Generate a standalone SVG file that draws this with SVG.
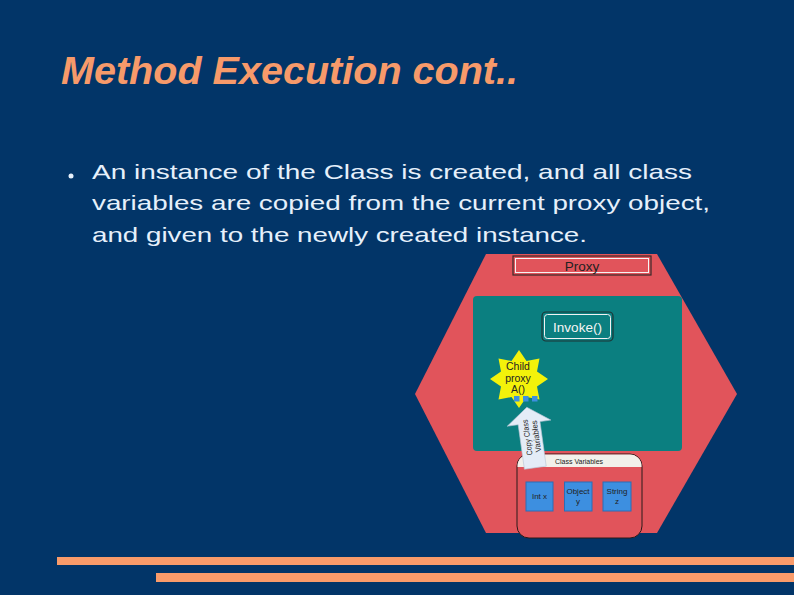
<svg xmlns="http://www.w3.org/2000/svg" width="794" height="595" viewBox="0 0 794 595">
<style>
.bg{fill:#023568}
.title{font-family:"Liberation Sans",Arial,sans-serif;font-weight:bold;font-style:italic;font-size:39px;fill:#f79a6a}
.body{font-family:"Liberation Sans",Arial,sans-serif;font-size:21px;fill:#e6f0fb}
.small{font-family:"Liberation Sans",Arial,sans-serif;fill:#222;text-anchor:middle}
.var{fill:#3d8fe0;stroke:#2d6db5;stroke-width:1}
.bar{fill:#f99b6a}
</style>
<rect class="bg" x="0" y="0" width="794" height="595"/>
<text class="title" x="61" y="84" textLength="457" lengthAdjust="spacingAndGlyphs">Method Execution cont..</text>
<circle cx="71" cy="176" r="2.5" fill="#e6f0fb"/>
<text class="body" x="92" y="179" textLength="600" lengthAdjust="spacingAndGlyphs">An instance of the Class is created, and all class</text>
<text class="body" x="92" y="210" textLength="618" lengthAdjust="spacingAndGlyphs">variables are copied from the current proxy object,</text>
<text class="body" x="92" y="242" textLength="495" lengthAdjust="spacingAndGlyphs">and given to the newly created instance.</text>

<g id="proxy">
<polygon points="486,254 657,254 737,394 657,533 486,533 415,394" fill="#e1545b"/>
<rect x="513" y="256" width="138" height="19" fill="none" stroke="#3a2a2a" stroke-width="1.2"/>
<rect x="515.5" y="258.5" width="133" height="14" fill="none" stroke="#f4f4f4" stroke-width="1"/>
<text class="small" x="582" y="270.5" font-size="13.5" fill="#2a1a1a">Proxy</text>
</g>

<g id="invokeArea">
<rect x="473" y="296" width="209" height="155" rx="4" fill="#0b7f80"/>
</g>

<g id="invoke">
<rect x="542" y="312" width="71" height="29" rx="4" fill="#0b7f80" stroke="#1e3535" stroke-width="1.2"/>
<rect x="544.5" y="314.5" width="66" height="24" rx="3" fill="none" stroke="#f2f2f2" stroke-width="1"/>
<text class="small" x="577.5" y="331.5" font-size="13.5" style="fill:#f5f5f5">Invoke()</text>
</g>

<g id="child">
<polygon points="519,350 526.5,361 539.5,358.5 537,371.5 548,379 537,386.5 539.5,399.5 526.5,397 519,408 511.5,397 498.5,399.5 501,386.5 490,379 501,371.5 498.5,358.5 511.5,361" fill="#f3f20a"/>
<text class="small" x="518" y="370" font-size="10.5">Child</text>
<text class="small" x="518" y="382" font-size="10.5">proxy</text>
<text class="small" x="518" y="393" font-size="10.5">A()</text>
</g>

<g id="classVars">
<path d="M529,454 H630 A12,12 0 0 1 642,466 V526 A12,12 0 0 1 630,538 H529 A12,12 0 0 1 517,526 V466 A12,12 0 0 1 529,454 Z" fill="#e1545b" stroke="#2a1a1a" stroke-width="1"/>
<path d="M529,454.5 H630 A11.5,11.5 0 0 1 641.5,466 V467 H517.5 V466 A11.5,11.5 0 0 1 529,454.5 Z" fill="#f2f0ea"/>
<text class="small" x="579" y="464" font-size="7">Class Variables</text>
</g>

<g id="intx">
<rect class="var" x="526" y="482" width="27" height="29"/>
<text class="small" x="539.5" y="499" font-size="8">Int x</text>
</g>
<g id="objecty">
<rect class="var" x="564.5" y="482" width="27.5" height="29"/>
<text class="small" x="578" y="494" font-size="8">Object</text>
<text class="small" x="578" y="504" font-size="8">y</text>
</g>
<g id="stringz">
<rect class="var" x="603" y="482" width="28" height="29"/>
<text class="small" x="617" y="494" font-size="8">String</text>
<text class="small" x="617" y="504" font-size="8">z</text>
</g>

<g id="connectors">
<g transform="translate(531,437) rotate(-8)">
<polygon points="0,-30 22,-14 11,-14 11,31 -11,31 -11,-14 -22,-14" fill="#e4ecf7" stroke="#b8c4d4" stroke-width="0.6"/>
<g transform="rotate(-90)">
<text class="small" x="0" y="-1" font-size="8" textLength="36" lengthAdjust="spacingAndGlyphs">Copy Class</text>
<text class="small" x="0" y="8" font-size="8" textLength="32" lengthAdjust="spacingAndGlyphs">Variables</text>
</g>
</g>
</g>

<g id="childPorts">
<rect x="514" y="396" width="5.5" height="5.5" fill="#3d8fe0"/>
<rect x="523" y="396" width="5.5" height="5.5" fill="#3d8fe0"/>
<rect x="532" y="396" width="5.5" height="5.5" fill="#3d8fe0"/>
</g>

<rect class="bar" x="57" y="557" width="737" height="8"/>
<rect class="bar" x="156" y="573" width="638" height="9"/>
</svg>
